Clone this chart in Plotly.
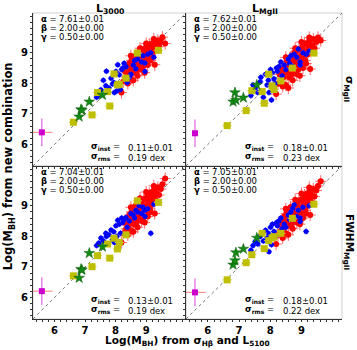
import plotly.graph_objects as go

# shared x: Log(M_BH) from sigma_Hbeta and L5100
red_x = [8.19, 8.25, 8.30, 8.35, 8.38, 8.42, 8.45, 8.48, 8.50, 8.52,
         8.55, 8.57, 8.60, 8.62, 8.64, 8.66, 8.68, 8.70, 8.72, 8.74,
         8.76, 8.78, 8.80, 8.82, 8.84, 8.86, 8.88, 8.90, 8.92, 8.94,
         8.96, 8.98, 9.00, 9.02, 9.04, 9.06, 9.08, 9.10, 9.12, 9.15,
         9.18, 9.20, 9.23, 9.26, 9.28, 9.30, 9.34, 9.38, 9.42, 9.48,
         9.53, 9.62, 8.58, 8.72, 8.85, 8.95, 9.05, 9.15, 8.65, 8.80,
         9.00, 9.25, 8.40, 8.50]
red_tl = [7.70, 8.05, 8.40, 8.20, 8.55, 8.30, 8.65, 8.45, 8.15, 8.75,
          8.50, 8.60, 8.35, 8.85, 8.55, 8.70, 8.40, 8.95, 8.65, 8.50,
          8.80, 9.00, 8.60, 8.75, 9.05, 8.70, 8.90, 8.55, 9.10, 8.85,
          8.70, 9.15, 8.95, 8.80, 9.20, 8.90, 9.05, 9.25, 8.85, 9.10,
          9.30, 9.00, 9.20, 9.35, 8.61, 9.10, 9.25, 9.40, 9.20, 9.35,
          9.51, 9.30, 8.10, 8.25, 8.45, 8.35, 8.60, 8.75, 8.90, 9.15,
          9.30, 9.45, 8.00, 8.90]
red_tr = [7.65, 8.00, 8.30, 8.05, 8.45, 8.20, 8.55, 8.35, 7.95, 8.70,
          8.40, 8.55, 8.20, 8.80, 8.50, 8.65, 8.30, 8.90, 8.60, 8.40,
          8.75, 9.00, 8.50, 8.70, 9.05, 8.65, 8.85, 8.45, 9.10, 8.80,
          8.60, 9.15, 8.90, 8.70, 9.20, 8.85, 9.00, 9.30, 8.75, 9.05,
          9.30, 8.95, 9.20, 9.40, 8.47, 9.05, 9.25, 9.45, 9.15, 9.35,
          9.50, 9.40, 7.85, 8.10, 8.30, 8.25, 8.50, 8.65, 8.85, 9.15,
          9.35, 9.50, 7.90, 8.85]
red_bl = [7.80, 8.10, 8.45, 8.25, 8.60, 8.35, 8.70, 8.50, 8.20, 8.80,
          8.55, 8.65, 8.40, 8.90, 8.60, 8.75, 8.45, 9.00, 8.70, 8.55,
          8.85, 9.05, 8.65, 8.80, 9.10, 8.75, 8.95, 8.60, 9.20, 8.90,
          8.75, 9.25, 9.00, 8.85, 9.30, 8.95, 9.10, 9.40, 8.90, 9.20,
          9.45, 9.05, 9.30, 9.50, 8.75, 9.20, 9.40, 9.60, 9.35, 9.55,
          9.70, 9.89, 8.15, 8.30, 8.50, 8.45, 8.65, 8.80, 9.00, 9.25,
          9.45, 9.65, 8.05, 8.95]
red_br = [7.75, 8.05, 8.40, 8.20, 8.55, 8.30, 8.65, 8.45, 8.10, 8.75,
          8.50, 8.60, 8.35, 8.85, 8.55, 8.70, 8.40, 8.95, 8.65, 8.50,
          8.80, 9.00, 8.60, 8.75, 9.05, 8.70, 8.90, 8.55, 9.15, 8.85,
          8.70, 9.20, 8.95, 8.80, 9.25, 8.90, 9.05, 9.35, 8.85, 9.15,
          9.40, 9.00, 9.25, 9.45, 8.70, 9.15, 9.35, 9.55, 9.30, 9.50,
          9.65, 9.80, 8.05, 8.25, 8.45, 8.40, 8.60, 8.75, 8.95, 9.20,
          9.40, 9.60, 7.95, 8.90]

blue_x = [7.38, 7.45, 7.52, 7.60, 7.68, 7.70, 7.78, 7.85, 7.90, 7.94,
          7.96, 8.01, 8.04, 8.07, 8.12, 8.16, 8.20, 8.23, 8.28, 8.34,
          8.38, 8.45, 8.50, 8.58, 8.62, 8.66, 8.72, 8.77, 8.85, 8.90,
          8.96, 8.96, 9.05, 9.15, 9.25]
blue_tl = [7.55, 7.62, 7.79, 8.10, 7.92, 8.40, 7.85, 8.17, 7.98, 8.03,
           7.70, 8.39, 7.75, 8.61, 8.28, 7.80, 8.45, 8.50, 8.66, 8.54,
           8.03, 8.20, 8.30, 8.60, 8.75, 8.48, 8.80, 8.97, 8.70, 8.90,
           8.67, 8.39, 8.95, 9.00, 8.85]
blue_tr = [7.60, 7.95, 7.85, 7.70, 8.05, 8.20, 7.55, 8.30, 7.95, 8.10,
           7.70, 8.45, 7.46, 8.35, 8.15, 8.00, 8.50, 8.40, 8.55, 8.70,
           8.25, 8.60, 8.45, 8.80, 8.65, 8.90, 8.55, 8.95, 8.85, 9.12,
           8.70, 8.60, 9.00, 8.95, 9.05]
blue_bl = [7.70, 7.78, 7.95, 7.85, 8.10, 8.00, 8.05, 8.21, 7.90, 8.15,
           7.80, 8.35, 8.00, 8.53, 8.40, 8.10, 8.60, 8.45, 8.55, 8.62,
           8.30, 8.50, 8.75, 8.70, 8.60, 8.85, 8.80, 9.00, 8.75, 8.95,
           8.65, 8.85, 8.90, 8.10, 9.05]
blue_br = [7.55, 7.70, 7.83, 7.75, 8.00, 8.05, 7.85, 8.20, 7.95, 8.10,
           7.50, 8.30, 7.73, 8.40, 8.16, 8.00, 8.45, 8.35, 8.50, 8.60,
           8.25, 8.40, 8.30, 8.70, 8.55, 8.80, 8.92, 9.03, 8.65, 8.85,
           8.49, 8.60, 8.95, 8.16, 9.00]

olive_x = [6.62, 7.23, 7.41, 7.74, 7.81, 7.95, 8.06, 8.12, 8.34, 8.71, 9.40]
olive_tl = [6.73, 6.97, 7.70, 7.73, 7.26, 8.31, 7.95, 7.97, 8.17, 8.99, 9.08]
olive_tr = [6.62, 7.11, 7.76, 7.73, 7.35, 8.30, 7.92, 7.80, 8.08, 8.50, 8.99]
olive_bl = [6.71, 7.01, 7.37, 7.75, 7.29, 7.94, 7.59, 7.80, 8.05, 9.16, 9.11]
olive_br = [6.58, 7.14, 7.40, 8.10, 7.60, 7.86, 7.95, 7.99, 8.10, 8.59, 9.05]

star_x = [6.81, 6.87, 6.90, 7.14, 7.57]
star_tl = [6.91, 7.15, 7.12, 7.40, 7.62]
star_tr = [7.40, 7.70, 7.45, 7.53, 7.95]
star_bl = [6.64, 6.93, 6.90, 7.45, 7.66]
star_br = [7.07, 7.21, 7.47, 7.59, 7.95]

mag_x = [5.59]
mag_y = {"tl": [6.40], "tr": [6.37], "bl": [6.21], "br": [6.17]}
mag_xerr = {"tl": 0.35, "tr": 0.0, "bl": 0.35, "br": 0.35}

alpha = {"tl": "7.61±0.01", "tr": "7.62±0.01", "bl": "7.04±0.01", "br": "7.05±0.01"}
beta = "2.00±0.00"
gamma = "0.50±0.00"
sig_inst = {"tl": "0.11±0.01", "tr": "0.18±0.01", "bl": "0.13±0.01", "br": "0.18±0.01"}
sig_rms = {"tl": "0.19 dex", "tr": "0.23 dex", "bl": "0.19 dex", "br": "0.22 dex"}

AX_RANGE = [5.3, 10.3]
TICKS = [6, 7, 8, 9]

FONT = "DejaVu Sans"
panels = {
    "tl": ("x", "y", red_tl, blue_tl, olive_tl, star_tl),
    "tr": ("x2", "y2", red_tr, blue_tr, olive_tr, star_tr),
    "bl": ("x3", "y3", red_bl, blue_bl, olive_bl, star_bl),
    "br": ("x4", "y4", red_br, blue_br, olive_br, star_br),
}

fig = go.Figure()
for key, (xa, ya, ry, by, oy, sy) in panels.items():
    fig.add_trace(go.Scatter(
        x=AX_RANGE, y=AX_RANGE, mode="lines", xaxis=xa, yaxis=ya,
        line=dict(color="#555", width=0.8, dash="dot"), showlegend=False))
    fig.add_trace(go.Scatter(
        x=red_x, y=ry, mode="markers", xaxis=xa, yaxis=ya, showlegend=False,
        marker=dict(color="#ff0000", size=6),
        error_x=dict(type="constant", value=0.18, color="#ff6a6a", thickness=1, width=0),
        error_y=dict(type="constant", value=0.2, color="#ff6a6a", thickness=1, width=0)))
    fig.add_trace(go.Scatter(
        x=blue_x, y=by, mode="markers", xaxis=xa, yaxis=ya, showlegend=False,
        marker=dict(color="#0000ff", size=5),
        error_x=dict(type="constant", value=0.1, color="#4a4aff", thickness=1, width=0),
        error_y=dict(type="constant", value=0.1, color="#4a4aff", thickness=1, width=0)))
    fig.add_trace(go.Scatter(
        x=olive_x, y=oy, mode="markers", xaxis=xa, yaxis=ya, showlegend=False,
        marker=dict(color="#bfbf00", size=7, symbol="square"),
        error_x=dict(type="constant", value=0.15, color="#d6d650", thickness=1, width=0),
        error_y=dict(type="constant", value=0.06, color="#d6d650", thickness=1, width=0)))
    fig.add_trace(go.Scatter(
        x=star_x, y=sy, mode="markers", xaxis=xa, yaxis=ya, showlegend=False,
        marker=dict(color="#138a13", size=8, symbol="star",
                    line=dict(color="#0a5a0a", width=0.5))))
    fig.add_trace(go.Scatter(
        x=mag_x, y=mag_y[key], mode="markers", xaxis=xa, yaxis=ya, showlegend=False,
        marker=dict(color="#cc00cc", size=6, symbol="square"),
        error_x=dict(type="constant", value=mag_xerr[key], color="#ff8080", thickness=1, width=0),
        error_y=dict(type="constant", value=0.45, color="#dd44dd", thickness=1, width=0)))

    dx = xa + " domain"
    dy = ya + " domain"
    fig.add_shape(type="rect", xref=dx, yref=dy, x0=0, x1=1, y0=0, y1=1,
                  line=dict(color="#d0d0d0", width=1), layer="below")

    def note(text, x, y, anchor="left"):
        fig.add_annotation(text=text, xref=dx, yref=dy, x=x, y=y, xanchor=anchor,
                           yanchor="middle", showarrow=False,
                           font=dict(family=FONT, size=8.5, color="black"))

    note("<b>α</b> =", 0.04, 0.96)
    note("<b>β</b> =", 0.04, 0.90)
    note("<b>γ</b> =", 0.04, 0.84)
    note(alpha[key], 0.155, 0.96)
    note(beta, 0.155, 0.90)
    note(gamma, 0.155, 0.84)
    note("<b>σ</b><sub><b>inst</b></sub> =", 0.58, 0.125, "right")
    note("<b>σ</b><sub><b>rms</b></sub> =", 0.58, 0.06, "right")
    note(sig_inst[key], 0.61, 0.12)
    note(sig_rms[key], 0.61, 0.055)

axis_common = dict(
    range=AX_RANGE, tickvals=TICKS, ticks="outside", ticklen=2,
    tickcolor="#333", showline=True, linecolor="#333", linewidth=1,
    showgrid=False, zeroline=False,
    minor=dict(dtick=0.2, ticks="outside", ticklen=2, tickcolor="#333"),
    tickfont=dict(family=FONT, size=10, color="black", weight="bold"),
)
L = [0, 0.495]
R = [0.495, 1]
T = [0.5, 1]
B = [0, 0.5]
fig.update_layout(
    xaxis=dict(axis_common, domain=L, anchor="y", showticklabels=False),
    yaxis=dict(axis_common, domain=T, anchor="x"),
    xaxis2=dict(axis_common, domain=R, anchor="y2", showticklabels=False),
    yaxis2=dict(axis_common, domain=T, anchor="x2", showticklabels=False),
    xaxis3=dict(axis_common, domain=L, anchor="y3"),
    yaxis3=dict(axis_common, domain=B, anchor="x3"),
    xaxis4=dict(axis_common, domain=R, anchor="y4"),
    yaxis4=dict(axis_common, domain=B, anchor="x4", showticklabels=False),
)

def label(text, x, y, angle=0, size=11.5, yanchor="middle"):
    fig.add_annotation(text=text, xref="paper", yref="paper", x=x, y=y,
                       xanchor="center", yanchor=yanchor, showarrow=False, textangle=angle,
                       font=dict(family=FONT, size=size, color="black", weight="bold"))

label("L<sub>3000</sub>", 0.25, 1.014, size=11)
label("L<sub>MgII</sub>", 0.75, 1.014, size=11)
label("σ<sub>MgII</sub>", 1.024, 0.75, 90, size=10.5)
label("FWHM<sub>MgII</sub>", 1.024, 0.25, 90, size=10.5)
label("Log(M<sub>BH</sub>) from new combination", -0.08, 0.5, -90)
label("Log(M<sub>BH</sub>) from σ<sub>Hβ</sub> and L<sub>5100</sub>", 0.5, -0.1,
      size=10.5, yanchor="bottom")

fig.update_layout(
    width=357, height=350,
    margin=dict(l=33, r=15, t=13, b=31),
    paper_bgcolor="white", plot_bgcolor="white",
    font=dict(family=FONT, color="black"),
)

# drop the browser's default page margin so the figure sits at the top-left corner
fig.write_html("out.html", config={"displayModeBar": False},
               post_script="document.body.style.margin = '0';")
